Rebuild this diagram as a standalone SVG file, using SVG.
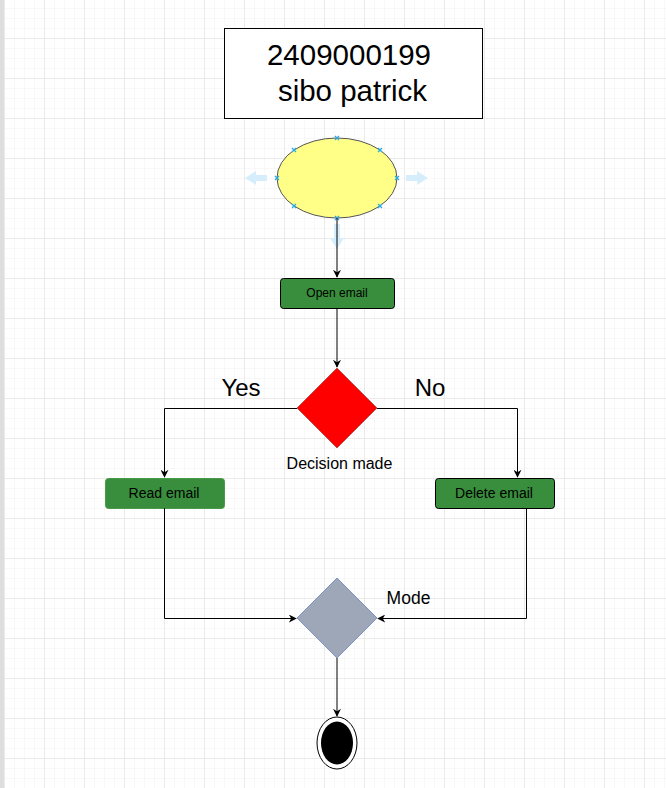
<svg xmlns="http://www.w3.org/2000/svg" width="666" height="788" viewBox="0 0 666 788">
<defs>
<pattern id="minor" x="4" y="-2" width="10" height="10" patternUnits="userSpaceOnUse">
<path d="M0 0H10M0 0V10" fill="none" stroke="#f1f1f1" stroke-width="1"/>
</pattern>
<pattern id="major" x="4" y="-2" width="40" height="40" patternUnits="userSpaceOnUse">
<path d="M0 0H40M0 0V40" fill="none" stroke="#dddddd" stroke-width="1"/>
</pattern>
<marker id="arr" viewBox="0 0 10 10" refX="9" refY="5" markerWidth="8" markerHeight="8" markerUnits="userSpaceOnUse" orient="auto">
<path d="M0 0L10 5L0 10L3 5Z" fill="#000"/>
</marker>
</defs>
<style>
.t{font-family:"Liberation Sans",Arial,sans-serif;fill:#000}
.c{fill:none;stroke:#000;stroke-width:1}
.box{fill:#388e3c;stroke:#000;stroke-width:1}
.x{stroke:#29a8e8;stroke-width:1.2}
.ha{fill:#d6eefb}
</style>
<rect width="666" height="788" fill="#fff"/>
<rect width="666" height="788" fill="url(#minor)"/>
<rect width="666" height="788" fill="url(#major)"/>
<rect x="0" y="0" width="4" height="788" fill="#dedede"/>

<g id="title">
<rect x="224.5" y="28.5" width="258" height="90" fill="#fff" stroke="#000"/>
<text class="t" x="349" y="65" font-size="29.5" text-anchor="middle">2409000199</text>
<text class="t" x="352.5" y="101" font-size="29.5" text-anchor="middle">sibo patrick</text>
</g>

<g id="start">
<path class="ha" d="M245 178L256 171V175H267V181H256V185Z"/>
<path class="ha" d="M428 178L417 171V175H406V181H417V185Z"/>
<path class="ha" d="M337 249L330 238H334V224H340V238H344Z"/>
<ellipse cx="337" cy="178" rx="60" ry="40" fill="#ffff88" stroke="#555" stroke-width="1"/>
<g class="x">
<path d="M335 136l4 4M339 136l-4 4"/>
<path d="M292 148l4 4M296 148l-4 4"/>
<path d="M378 148l4 4M382 148l-4 4"/>
<path d="M275 176l4 4M279 176l-4 4"/>
<path d="M395 176l4 4M399 176l-4 4"/>
<path d="M292 204l4 4M296 204l-4 4"/>
<path d="M378 204l4 4M382 204l-4 4"/>
<path d="M335 216l4 4M339 216l-4 4"/>
</g>
</g>

<g id="open-email">
<rect class="box" x="280.5" y="278.5" width="114" height="30" rx="3"/>
<text class="t" x="337" y="297" font-size="12" text-anchor="middle">Open email</text>
</g>

<g id="decision">
<path d="M337 368L377 408L337 448L297 408Z" fill="#ff0000" stroke="#b85450" stroke-width="1"/>
<text class="t" x="339.5" y="469" font-size="16" text-anchor="middle">Decision made</text>
</g>

<g id="read-email">
<rect x="105.5" y="478.5" width="119" height="30" rx="3" fill="#388e3c" stroke="#4a9a4a"/>
<text class="t" x="164" y="498" font-size="14" text-anchor="middle">Read email</text>
</g>

<g id="delete-email">
<rect class="box" x="435.5" y="478.5" width="119" height="30" rx="3"/>
<text class="t" x="494" y="498" font-size="14" text-anchor="middle">Delete email</text>
</g>

<g id="merge">
<path d="M337 578L377 618L337 658L297 618Z" fill="#9ea7b8" stroke="#7d94c4" stroke-width="1"/>
<text class="t" x="408.5" y="604" font-size="17.5" text-anchor="middle">Mode</text>
</g>

<g id="end">
<ellipse cx="337" cy="743" rx="20" ry="26" fill="#fff" stroke="#000" stroke-width="1"/>
<ellipse cx="337" cy="743" rx="16" ry="21.5" fill="#000"/>
</g>

<g id="connectors">
<path class="c" d="M337 218V277" marker-end="url(#arr)"/>
<path class="c" d="M337 308V367" marker-end="url(#arr)"/>
<path class="c" d="M297 408.5H164.5V477" marker-end="url(#arr)"/>
<path class="c" d="M377 408.5H517.5V477" marker-end="url(#arr)"/>
<path class="c" d="M164.5 508V618.5H296" marker-end="url(#arr)"/>
<path class="c" d="M526.5 508V618.5H378" marker-end="url(#arr)"/>
<path class="c" d="M337 658V716" marker-end="url(#arr)"/>
<text class="t" x="241" y="396" font-size="24" text-anchor="middle">Yes</text>
<text class="t" x="430" y="396" font-size="24" text-anchor="middle">No</text>
</g>
</svg>
